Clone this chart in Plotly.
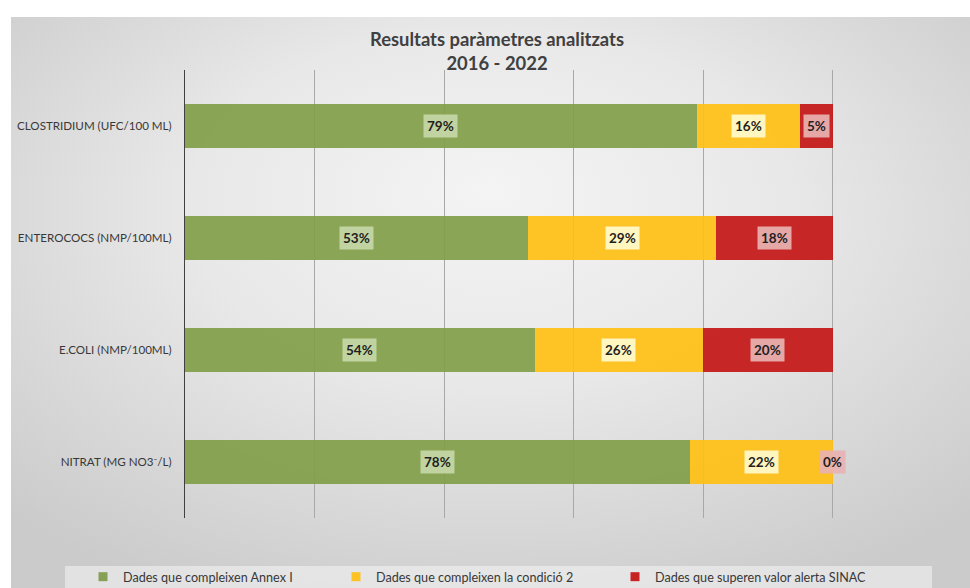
import base64
import plotly.graph_objects as go

categories = ["CLOSTRIDIUM (UFC/100 ML)", "ENTEROCOCS (NMP/100ML)", "E.COLI (NMP/100ML)", "NITRAT (MG NO3\u207b/L)"]
annex_i = [0.79, 0.53, 0.54, 0.78]
condicio_2 = [0.16, 0.29, 0.26, 0.22]
alerta_sinac = [0.05, 0.18, 0.20, 0.00]
series_names = ["Dades que compleixen Annex I", "Dades que compleixen la condició 2", "Dades que superen valor alerta SINAC"]
series_colors = ["rgba(128,158,72,0.92)", "rgba(255,192,20,0.92)", "rgba(196,22,22,0.92)"]
label_bg = ["rgba(200,216,168,0.9)", "rgba(255,250,205,0.92)", "rgba(232,178,178,0.92)"]
legend_square = ["#86A155", "#FDC324", "#C82323"]

W, H = 970, 588
L, R, T, B = 185, 8, 70, 70
PW, PH = W - L - R, H - T - B

def px_x(p):
    return (p - L) / PW

def px_y(p):
    return (H - B - p) / PH

FONT = "Lato, 'Open Sans', sans-serif"

fig = go.Figure()
series = [annex_i, condicio_2, alerta_sinac]
for i, vals in enumerate(series):
    fig.add_trace(go.Bar(
        y=categories, x=vals, orientation="h", name=series_names[i],
        marker=dict(color=series_colors[i], line=dict(width=0)),
        showlegend=False, hoverinfo="x+y+name",
    ))
    fig.add_trace(go.Scatter(
        x=[None], y=[None], mode="markers", name=series_names[i],
        marker=dict(symbol="square", size=9, color=legend_square[i]),
        legend="legend" if i == 0 else f"legend{i+1}",
        showlegend=True,
    ))

annotations = []
for ci, cat in enumerate(categories):
    start = 0.0
    for si, vals in enumerate(series):
        v = vals[ci]
        annotations.append(dict(
            x=start + v / 2, y=cat, xref="x", yref="y",
            text=f"<b>{round(v * 100)}%</b>", showarrow=False,
            font=dict(family=FONT, size=13.5, color="#1f1f1f"),
            bgcolor=label_bg[si], borderpad=3,
        ))
        start += v

svg = (
    '<svg xmlns="http://www.w3.org/2000/svg" width="959" height="571" viewBox="0 0 959 571" preserveAspectRatio="none">'
    '<defs><radialGradient id="g" cx="50%" cy="38%" r="70%" fx="50%" fy="30%">'
    '<stop offset="0%" stop-color="#f4f4f4"/>'
    '<stop offset="45%" stop-color="#e8e8e8"/>'
    '<stop offset="100%" stop-color="#cbcbcb"/>'
    '</radialGradient></defs>'
    '<rect width="959" height="571" fill="url(#g)"/></svg>'
)
src = "data:image/svg+xml;base64," + base64.b64encode(svg.encode()).decode()

fig.update_layout(
    width=W, height=H,
    margin=dict(l=L, r=R, t=T, b=B, pad=0, autoexpand=False),
    paper_bgcolor="white", plot_bgcolor="rgba(0,0,0,0)",
    barmode="stack", bargap=0.607,
    font=dict(family=FONT, color="#404040"),
    title=dict(
        text="<b>Resultats paràmetres analitzats</b><br><b>2016 - 2022</b>",
        x=497 / W, xref="container", xanchor="center",
        y=1 - 46 / H, yref="container", yanchor="top",
        font=dict(family=FONT, size=18.4, color="#404040"),
    ),
    xaxis=dict(range=[0, 1.2], dtick=0.2, showticklabels=False, showgrid=True,
               gridcolor="#a8a8a8", gridwidth=1, zeroline=False, showline=False,
               fixedrange=True),
    yaxis=dict(categoryorder="array", categoryarray=categories, autorange="reversed",
               showline=True, linecolor="#404040", linewidth=1, showgrid=False,
               ticks="", ticklabelstandoff=10,
               tickfont=dict(family=FONT, size=11.6, color="#383838")),
    images=[dict(source=src, xref="paper", yref="paper",
                 x=px_x(11), y=px_y(17), sizex=(W - 11) / PW, sizey=(H - 17) / PH,
                 xanchor="left", yanchor="top", sizing="stretch", layer="below")],
    shapes=[dict(type="rect", xref="paper", yref="paper",
                 x0=px_x(65), x1=px_x(932), y0=px_y(566), y1=px_y(600),
                 fillcolor="rgba(245,245,245,0.55)", line=dict(width=0), layer="below")],
    annotations=annotations,
)

leg_common = dict(orientation="h", bgcolor="rgba(0,0,0,0)", borderwidth=0,
                  font=dict(family=FONT, size=12.6, color="#383838"),
                  xref="container", yref="container",
                  xanchor="left", yanchor="middle", itemwidth=30)
fig.update_layout(
    legend=dict(x=83 / W, y=(H - 577) / H, **leg_common),
    legend2=dict(x=336 / W, y=(H - 577) / H, **leg_common),
    legend3=dict(x=615 / W, y=(H - 577) / H, **leg_common),
)

fig.write_html("out.html")
